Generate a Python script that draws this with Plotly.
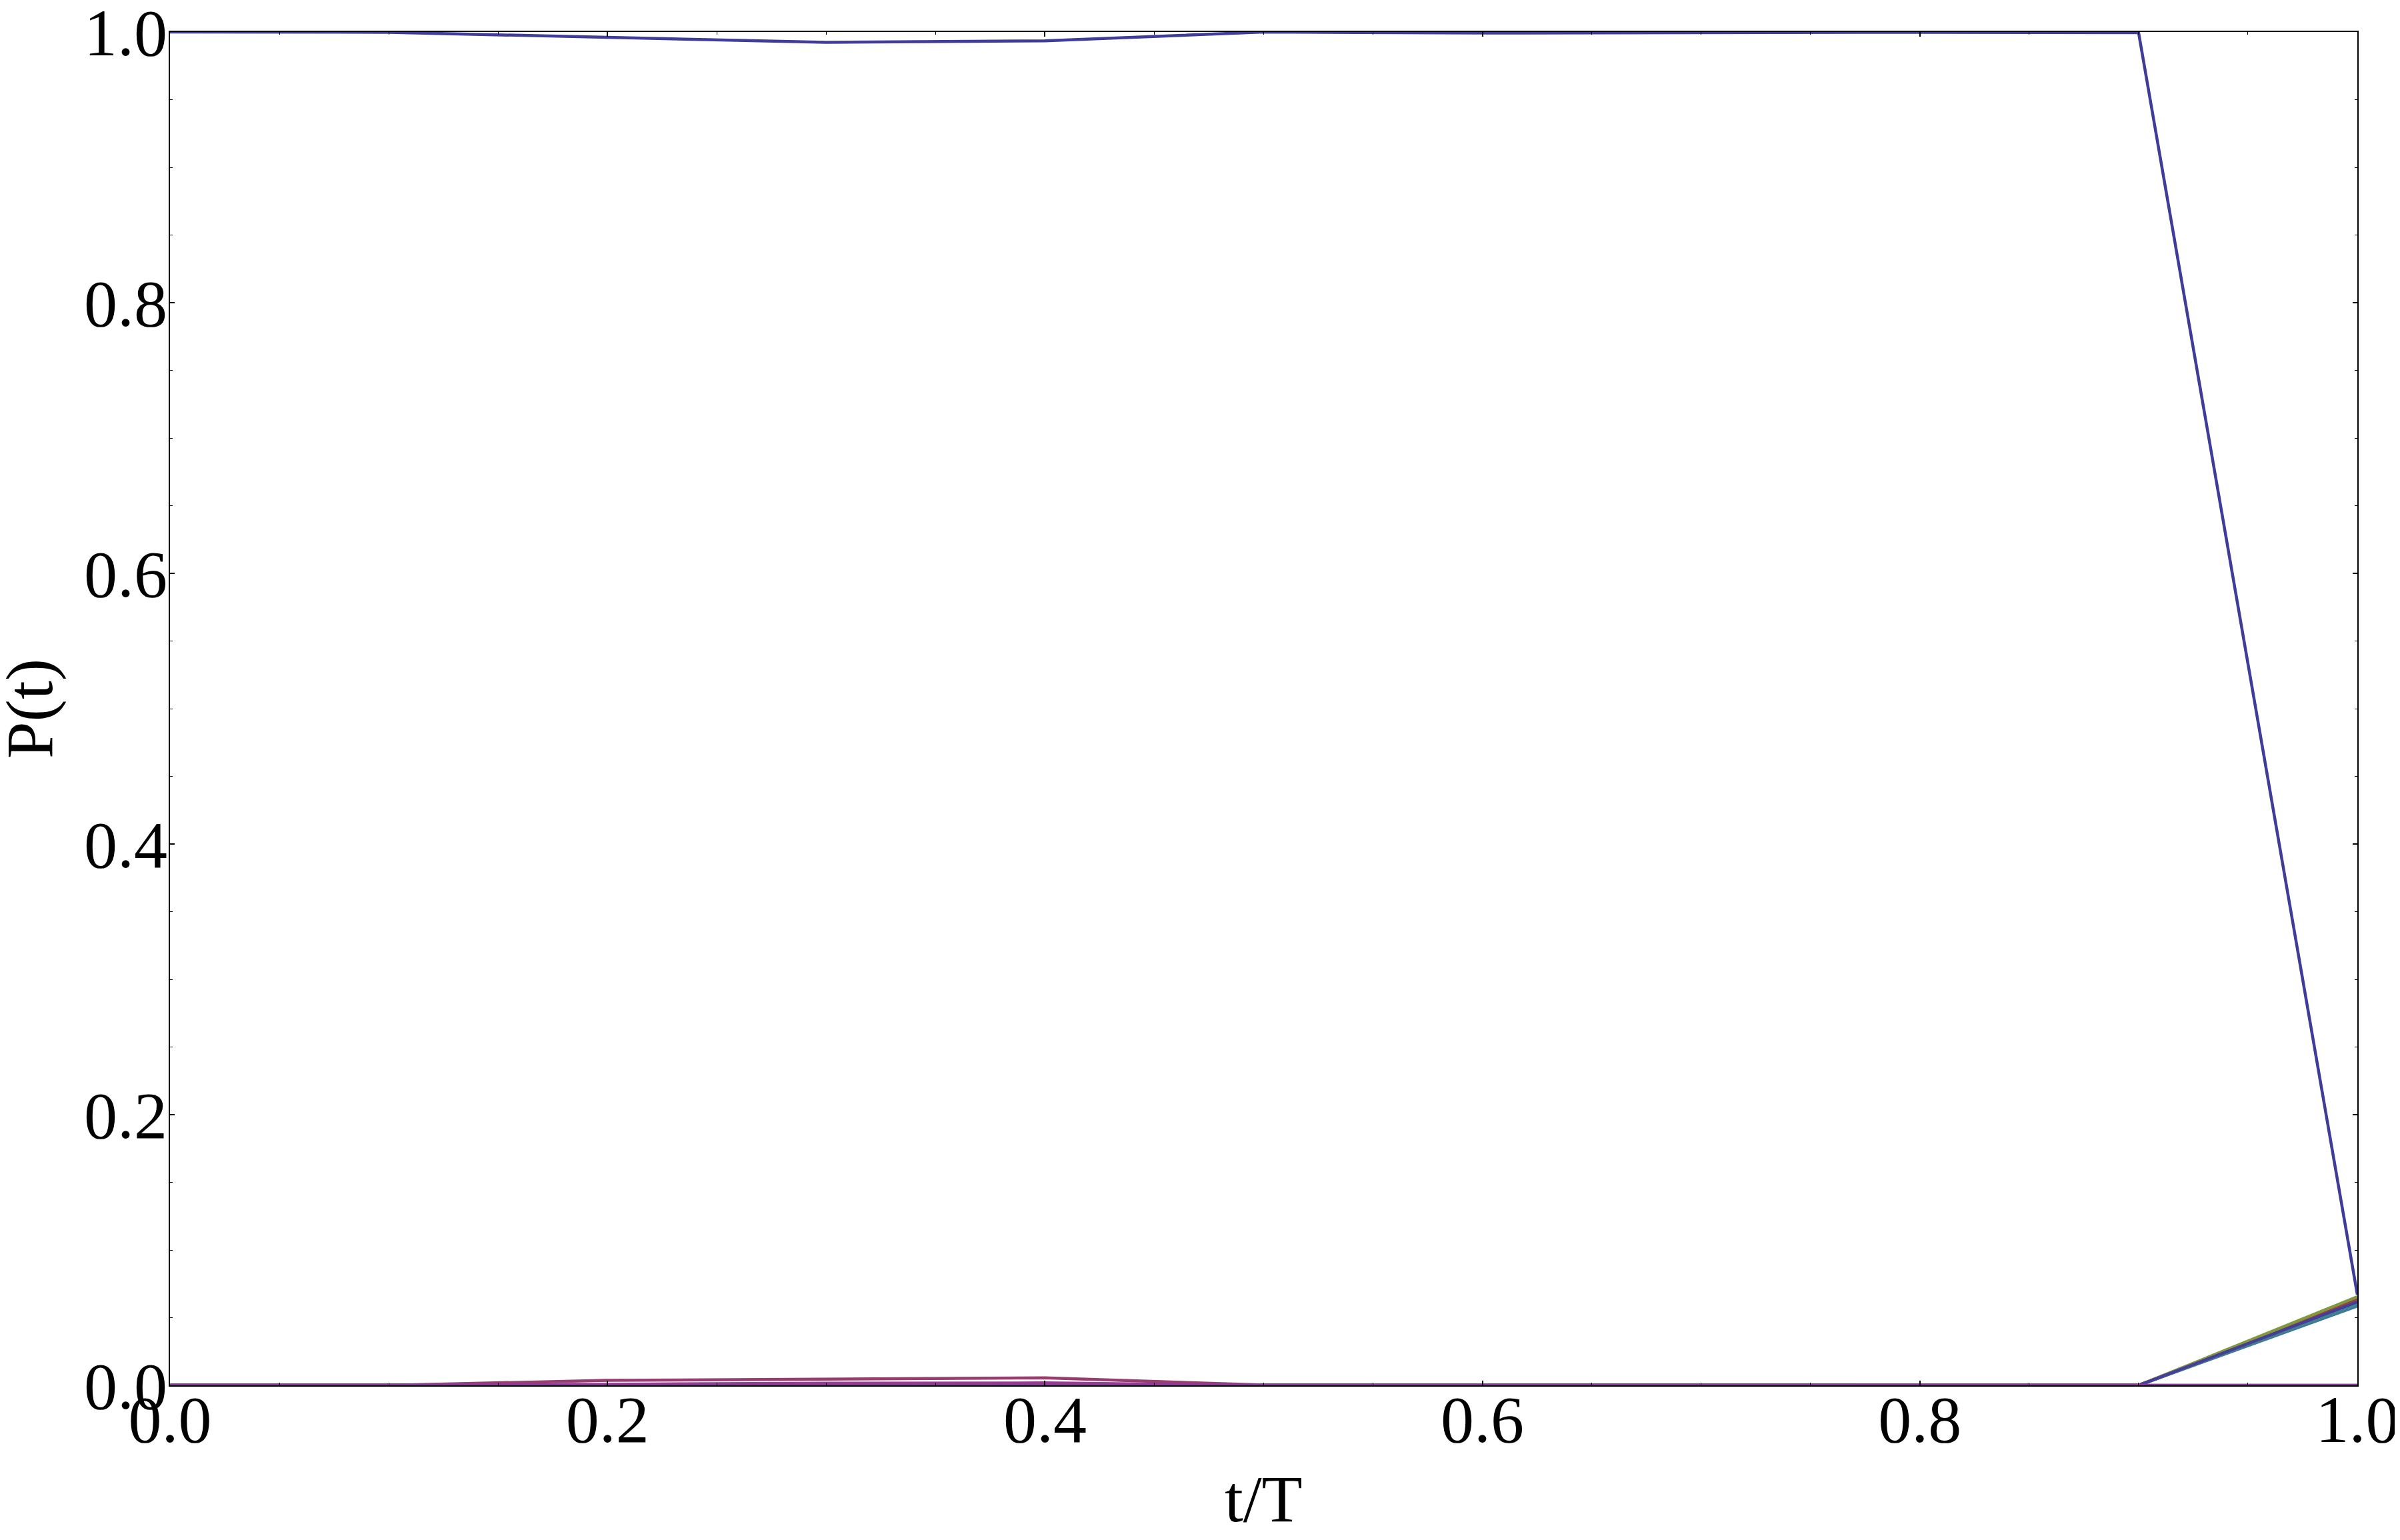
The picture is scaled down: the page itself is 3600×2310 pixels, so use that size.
import plotly.graph_objects as go

# time axis (t/T)
t = [0.0, 0.1, 0.2, 0.3, 0.4, 0.5, 0.6, 0.7, 0.8, 0.9, 1.0]

# populations
p0 = [1.0, 0.9998, 0.996, 0.9924, 0.9935, 1.0, 0.9992, 0.9995, 0.9998, 0.9995, 0.067]
p1 = [0.0, 0.0, 0.0037, 0.0048, 0.0055, 0.0002, 0.0, 0.0, 0.0, 0.0, 0.0630]
p2 = [0.0, 0.0, 0.0, 0.0, 0.0, 0.0, 0.0, 0.0, 0.0, 0.0, 0.0624]
p3 = [0.0, 0.0, 0.0, 0.0, 0.0, 0.0, 0.0, 0.0, 0.0, 0.0, 0.0619]
p4 = [0.0, 0.0, 0.0, 0.0, 0.0, 0.0, 0.0, 0.0, 0.0, 0.0, 0.0594]
p6 = [0.0, 0.0, 0.0, 0.0, 0.0, 0.0, 0.0, 0.0, 0.0, 0.0, 0.0614]
p7 = [0.0, 0.0, 0.0, 0.0, 0.0, 0.0, 0.0, 0.0, 0.0, 0.0, 0.0621]
p8 = [0.0, 0.0, 0.0, 0.0, 0.0, 0.0, 0.0, 0.0, 0.0, 0.0, 0.0586]
p10 = [0.0, 0.0, 0.0, 0.0, 0.0, 0.0, 0.0, 0.0, 0.0, 0.0, 0.0627]
p11 = [0.0, 0.0, 0.0, 0.0, 0.0, 0.0, 0.0, 0.0, 0.0, 0.0, 0.0633]
p12 = [0.0, 0.0, 0.0, 0.0, 0.0, 0.0, 0.0, 0.0, 0.0, 0.0, 0.0604]
p13 = [0.0, 0.0, 0.0, 0.0, 0.0, 0.0, 0.0, 0.0, 0.0, 0.0, 0.0609]
p14 = [0.0, 0.0, 0.0, 0.0, 0.0, 0.0, 0.0, 0.0, 0.0, 0.0, 0.0641]
p15 = [0.0, 0.0, 0.0, 0.0, 0.0, 0.0, 0.0, 0.0, 0.0, 0.0, 0.0655]
p16 = [0.0, 0.0, 0.0, 0.0, 0.0, 0.0, 0.0, 0.0, 0.0, 0.0, 0.0611]
p17 = [0.0, 0.0, 0.0, 0.0, 0.0, 0.0, 0.0, 0.0, 0.0, 0.0, 0.0617]
p5 = [0.0, 0.0, 0.0008, 0.0016, 0.0018, 0.0, 0.0, 0.0, 0.0, 0.0, 0.0]
p9 = [0.0, 0.0, 0.0, 0.0, 0.0, 0.0, 0.0, 0.0, 0.0, 0.0, 0.0]

tick_vals = [0.0, 0.2, 0.4, 0.6, 0.8, 1.0]
tick_text = ["0.0", "0.2", "0.4", "0.6", "0.8", "1.0"]

# mathematica-style default colours, in drawing order
series = [p0, p1, p2, p3, p4, p6, p7, p8, p10, p11, p12, p13, p14, p15, p16, p17, p5, p9]
colors = ['#3f3d99', '#993d71', '#998b3d', '#3d9956', '#3d5a99', '#996d3d',
          '#43993d', '#3d7999', '#994e3d', '#62993d', '#3d9799', '#653d99',
          '#993d4b', '#81993d', '#3d997c', '#463d99', '#993d90', '#843d99']

fig = go.Figure()
for ys, c in zip(series, colors):
    fig.add_trace(go.Scatter(x=t, y=ys, mode='lines',
                             line=dict(color=c, width=4.5), showlegend=False))

axis_style = dict(
    range=[0, 1],
    tickvals=tick_vals, ticktext=tick_text,
    ticks='inside', ticklen=7, tickwidth=1.5, tickcolor='black',
    minor=dict(dtick=0.05, ticks='inside', ticklen=4, tickwidth=1.2, tickcolor='black'),
    showline=True, linecolor='black', linewidth=2, mirror='ticks',
    showgrid=False, zeroline=False, automargin=False,
    ticklabeloverflow='allow',
)

# page body has an 8px margin, so the figure is 8px smaller than the window
fig.update_layout(
    width=3592, height=2302,
    margin=dict(l=247, r=64, t=40, b=232),
    paper_bgcolor='white', plot_bgcolor='white',
    font=dict(family='Liberation Serif', size=100, color='black'),
    showlegend=False,
    xaxis=dict(axis_style, ticklabelstandoff=-37),
    yaxis=dict(axis_style, ticklabelstandoff=-18),
)

# axis titles placed by hand (standoff is ignored without automargin)
title_font = dict(family='Liberation Serif', size=100, color='black')
fig.add_annotation(text='t/T', showarrow=False,
                   xref='paper', yref='paper', x=0.5, y=-0.0557,
                   xanchor='center', yanchor='top', font=title_font)
fig.add_annotation(text='P(t)', textangle=-90, showarrow=False,
                   xref='paper', yref='paper', x=-0.0643, y=0.5,
                   xanchor='center', yanchor='middle', font=title_font)

fig.write_html("out.html")
